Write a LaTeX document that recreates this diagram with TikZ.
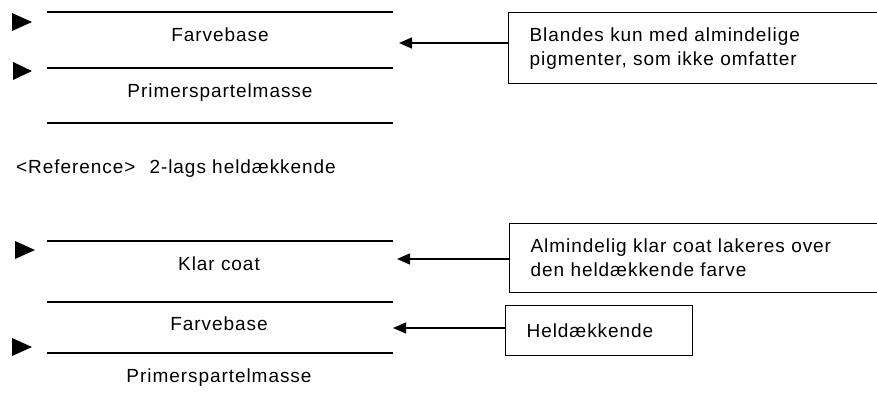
\documentclass[tikz,border=0pt]{standalone}
\usepackage{fontspec}
\setmainfont{Liberation Sans}[LetterSpace=5]
\usetikzlibrary{arrows.meta}
\begin{document}
\begin{tikzpicture}[x=1pt,y=-1pt,
  layer/.style={line width=1.4pt},
  lbl/.style={anchor=base,inner sep=0pt,font=\fontsize{19}{24}\selectfont},
  note/.style={draw,line width=1.2pt,anchor=north west,align=left,inner xsep=21pt,inner ysep=0pt,font=\fontsize{19}{24}\selectfont},
  pointer/.style={line width=1.4pt,-{Triangle[length=13pt,width=11pt]}},
  marker/.style={fill=black,draw=none}]
\useasboundingbox (0,0) rectangle (877,405);
% ---- top group ----
\coordinate (t1l) at (47,12);  \coordinate (t1r) at (393,12);
\coordinate (t2l) at (47,68);  \coordinate (t2r) at (393,68);
\coordinate (t3l) at (47,123); \coordinate (t3r) at (393,123);
\draw[layer] (t1l) -- (t1r);
\draw[layer] (t2l) -- (t2r);
\draw[layer] (t3l) -- (t3r);
\node[lbl] (tfarve) at (220,41) {Farvebase};
\node[lbl] (tprimer) at (220,97) {Primerspartelmasse};
\path[marker] (12,13) -- (32,22) -- (12,31) -- cycle;
\path[marker] (13,62) -- (32,71) -- (13,80) -- cycle;
\node[note,minimum width=420pt,minimum height=71pt,text width=378pt] (box1) at (508,12)
  {Blandes kun med almindelige\\pigmenter, som ikke omfatter};
\coordinate (a1) at (399,43);
\draw[pointer] (box1.west |- a1) -- (a1);
% ---- middle label ----
\node[lbl,anchor=base west] (ref) at (16,173) {<Reference>\hspace{14pt}2-lags heldækkende};
% ---- bottom group ----
\coordinate (b1l) at (47,241);  \coordinate (b1r) at (393,241);
\coordinate (b2l) at (47,302);  \coordinate (b2r) at (393,302);
\coordinate (b3l) at (47,353);  \coordinate (b3r) at (393,353);
\draw[layer] (b1l) -- (b1r);
\draw[layer] (b2l) -- (b2r);
\draw[layer] (b3l) -- (b3r);
\node[lbl] (bklar) at (219,270) {Klar coat};
\node[lbl] (bfarve) at (219,330) {Farvebase};
\node[lbl] (bprimer) at (219,382) {Primerspartelmasse};
\path[marker] (15,241) -- (35,250) -- (15,259) -- cycle;
\path[marker] (12,338) -- (32,347) -- (12,356) -- cycle;
\node[note,minimum width=420pt,minimum height=69pt,text width=378pt] (box2) at (509,223)
  {Almindelig klar coat lakeres over\\den heldækkende farve};
\coordinate (a2) at (397,259);
\draw[pointer] (box2.west |- a2) -- (a2);
\node[note,minimum width=187pt,minimum height=50pt,text width=145pt] (box3) at (505,305)
  {Heldækkende};
\coordinate (a3) at (393,328);
\draw[pointer] (box3.west |- a3) -- (a3);
\end{tikzpicture}
\end{document}
